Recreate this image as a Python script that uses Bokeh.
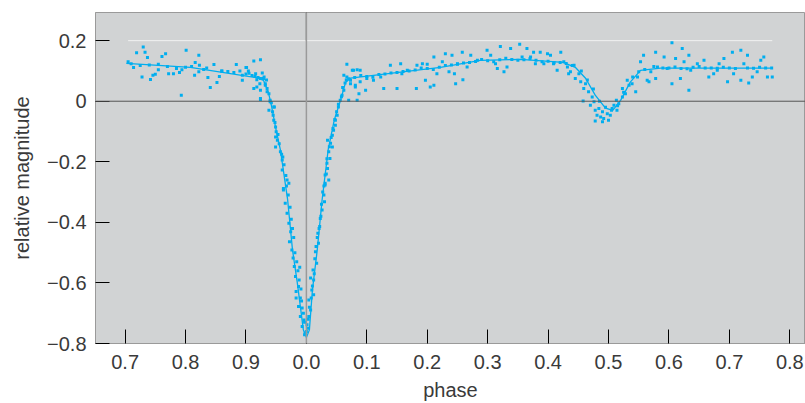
from bokeh.plotting import figure
from bokeh.models import Range1d, FixedTicker, Span
from bokeh.embed import file_html
from bokeh.resources import INLINE

# ---- data (continuous phase axis: -0.3 shown as 0.7, 0 as 0.0) ----
obs_phase = [
    -0.281, -0.270, -0.267, -0.263, -0.286, -0.272, -0.258, -0.254, -0.250, -0.245,
    -0.239, -0.233, -0.228, -0.220, -0.210, -0.206, -0.207, -0.199, -0.184, -0.178,
    -0.177, -0.178, -0.185, -0.163, -0.159, -0.153, -0.148, -0.144, -0.140, -0.116,
    -0.106, -0.100, -0.096, -0.087, -0.076, -0.084, -0.073, -0.082, -0.071, -0.077,
    -0.068, -0.087, -0.076, -0.065, -0.062, -0.076, -0.060, -0.054, -0.106, -0.099,
    -0.076, -0.082, -0.068, -0.065, -0.076, -0.060, -0.062, -0.053, -0.055, -0.054,
    -0.051, -0.050, -0.051, -0.048, -0.051, -0.043, -0.040, -0.039, -0.040, -0.032,
    -0.029, -0.038, -0.038, -0.035, -0.032, -0.029, -0.026, -0.028, -0.024, -0.022,
    -0.020, -0.011, -0.018, -0.013, -0.017, -0.017, -0.010, -0.013, -0.007, -0.010,
    -0.004, -0.007, -0.002,
    -0.003, 0.000, 0.001, 0.004, 0.007, 0.004, 0.012, 0.009, 0.012, 0.007,
    0.011, 0.017, 0.015, 0.020, 0.019, 0.022, 0.023, 0.026, 0.030, 0.029,
    0.031, 0.031, 0.037, 0.031, 0.035, 0.034, 0.039, 0.037, 0.043, 0.040,
    0.035, 0.043, 0.045, 0.048, 0.048, 0.051, 0.053, 0.056, 0.059, 0.062,
    0.070, 0.084, 0.073, 0.081, 0.087, 0.067, 0.067, 0.078, 0.089,
    0.062, 0.076, 0.084, 0.073, 0.081, 0.089, 0.100, 0.098, 0.111, 0.123,
    0.128, 0.139, 0.150, 0.156, 0.158, 0.167, 0.183, 0.182, 0.192, 0.200,
    0.197, 0.205, 0.211, 0.211, 0.216, 0.225, 0.230, 0.236, 0.241, 0.245,
    0.247, 0.250, 0.258, 0.259, 0.266, 0.272, 0.283, 0.299, 0.305, 0.313,
    0.316, 0.321, 0.327, 0.332, 0.338, 0.353, 0.357, 0.365, 0.371, 0.376,
    0.379, 0.387, 0.393, 0.399, 0.404, 0.409, 0.421, 0.415, 0.426, 0.432,
    0.434, 0.437, 0.443, 0.445, 0.451, 0.454, 0.459, 0.462, 0.467, 0.473,
    0.470, 0.476, 0.458, 0.478, 0.484, 0.481, 0.487, 0.490, 0.478, 0.492,
    0.498, 0.500, 0.490, 0.503, 0.506, 0.509, 0.513, 0.517, 0.523, 0.514,
    0.523, 0.528, 0.534, 0.531, 0.539, 0.545, 0.548, 0.550, 0.553, 0.558,
    0.564, 0.570, 0.567, 0.578, 0.578, 0.581, 0.592, 0.597, 0.605, 0.605,
    0.611, 0.619, 0.622, 0.625, 0.633, 0.633, 0.636, 0.647, 0.658, 0.666,
    0.674, 0.680, 0.683, 0.691, 0.697, 0.705, 0.707, 0.719, 0.719, 0.724,
    0.730, 0.732, 0.738, 0.746, 0.752, 0.757, 0.763, 0.771,
    -0.290, -0.260, -0.230, -0.200, -0.170, -0.140, -0.120, -0.100, -0.090, -0.080,
    0.080, 0.100, 0.120, 0.140, 0.160, 0.180, 0.200, 0.220, 0.240, 0.260,
    0.280, 0.300, 0.320, 0.340, 0.360, 0.380, 0.400, 0.420, 0.440, 0.600,
    0.620, 0.640, 0.660, 0.680, 0.700, 0.740, 0.760,
    -0.058, -0.056, -0.052, -0.047, -0.045, -0.041, -0.037, -0.034, -0.033, -0.030,
    -0.027, -0.025, -0.023, -0.021, -0.019, -0.016, -0.014, -0.012, -0.009, -0.008,
    -0.005, -0.003, 0.002, 0.003, 0.005, 0.008, 0.010, 0.013, 0.014, 0.016,
    0.018, 0.021, 0.024, 0.025, 0.027, 0.029, 0.033, 0.034, 0.038, 0.041,
    0.044, 0.047, 0.050, 0.053, 0.058, 0.060, 0.064, 0.066,
    -0.295, -0.275, -0.245, -0.215, -0.190, -0.165, -0.130, -0.110, -0.095, -0.085,
    -0.070, -0.066, 0.070, 0.090, 0.110, 0.130, 0.150, 0.170, 0.190, 0.210,
    0.230, 0.250, 0.270, 0.290, 0.310, 0.330, 0.350, 0.370, 0.390, 0.410,
    0.430, 0.455, 0.465, 0.475, 0.485, 0.495, 0.505, 0.515, 0.525, 0.540,
    0.560, 0.575, 0.590, 0.610, 0.630, 0.650, 0.670, 0.690, 0.710, 0.730,
    0.750, 0.770,
]
obs_mag = [
    0.160, 0.179, 0.162, 0.144, 0.111, 0.080, 0.072, 0.086, 0.089, 0.104,
    0.148, 0.157, 0.091, 0.091, 0.095, 0.104, 0.020, 0.168, 0.128, 0.152,
    0.119, 0.097, 0.086, 0.078, 0.045, 0.121, 0.062, 0.082, 0.100, 0.121,
    0.069, 0.111, 0.100, 0.133, 0.137, 0.091, 0.093, 0.071, 0.075, 0.058,
    0.058, 0.042, 0.036, 0.042, 0.025, 0.006, 0.003, -0.019, 0.086, 0.111,
    0.075, 0.047, 0.053, 0.031, 0.009, -0.002, -0.030, -0.019, -0.046, -0.063,
    -0.085, -0.101, -0.118, -0.129, -0.151, -0.167, -0.194, -0.184, -0.227, -0.260,
    -0.271, -0.288, -0.293, -0.337, -0.370, -0.403, -0.431, -0.464, -0.491, -0.518,
    -0.546, -0.548, -0.579, -0.612, -0.628, -0.650, -0.650, -0.678, -0.683, -0.711,
    -0.722, -0.744, -0.765,
    -0.771, -0.760, -0.738, -0.711, -0.689, -0.656, -0.639, -0.623, -0.590, -0.584,
    -0.557, -0.535, -0.497, -0.469, -0.436, -0.414, -0.387, -0.359, -0.332, -0.310,
    -0.271, -0.277, -0.260, -0.244, -0.222, -0.205, -0.189, -0.167, -0.151, -0.139,
    -0.129, -0.112, -0.096, -0.079, -0.063, -0.046, -0.019, 0.003, 0.020, 0.036,
    0.003, 0.003, 0.058, 0.047, 0.025, 0.080, 0.122, 0.102, 0.102,
    0.086, 0.102, 0.104, 0.069, 0.053, 0.064, 0.075, 0.036, 0.069, 0.080,
    0.042, 0.119, 0.042, 0.124, 0.091, 0.102, 0.119, 0.042, 0.124, 0.122,
    0.069, 0.047, 0.053, 0.146, 0.091, 0.130, 0.157, 0.097, 0.152, 0.091,
    0.058, 0.124, 0.162, 0.071, 0.113, 0.152, 0.135, 0.168, 0.152, 0.124,
    0.108, 0.181, 0.097, 0.113, 0.174, 0.188, 0.146, 0.174, 0.146, 0.162,
    0.124, 0.162, 0.124, 0.157, 0.152, 0.124, 0.162, 0.102, 0.130, 0.113,
    0.091, 0.097, 0.119, 0.075, 0.091, 0.064, 0.042, 0.058, 0.031, 0.014,
    -0.013, -0.002, 0.001, -0.030, -0.024, -0.046, -0.052, -0.035, -0.065, -0.057,
    -0.041, -0.063, -0.068, -0.046, -0.024, -0.013, 0.003, -0.008, 0.014, -0.030,
    0.042, 0.025, 0.053, 0.069, 0.058, 0.031, 0.080, 0.097, 0.130, 0.152,
    0.069, 0.097, 0.064, 0.162, 0.075, 0.113, 0.146, 0.108, 0.193, 0.058,
    0.141, 0.075, 0.174, 0.130, 0.152, 0.036, 0.102, 0.124, 0.135, 0.080,
    0.091, 0.102, 0.124, 0.141, 0.064, 0.162, 0.091, 0.168, 0.069, 0.124,
    0.152, 0.060, 0.080, 0.097, 0.135, 0.146, 0.080, 0.080,
    0.124, 0.120, 0.115, 0.112, 0.105, 0.100, 0.095, 0.090, 0.085, 0.078,
    0.078, 0.082, 0.088, 0.093, 0.098, 0.103, 0.108, 0.112, 0.120, 0.126,
    0.131, 0.134, 0.137, 0.138, 0.137, 0.135, 0.132, 0.128, 0.118, 0.110,
    0.108, 0.112, 0.110, 0.109, 0.110, 0.109, 0.110,
    -0.005, -0.035, -0.070, -0.110, -0.140, -0.175, -0.210, -0.245, -0.280, -0.310,
    -0.350, -0.390, -0.420, -0.450, -0.500, -0.530, -0.560, -0.590, -0.620, -0.660,
    -0.700, -0.730, -0.750, -0.720, -0.680, -0.650, -0.610, -0.570, -0.520, -0.480,
    -0.450, -0.420, -0.380, -0.340, -0.300, -0.280, -0.240, -0.190, -0.150, -0.120,
    -0.090, -0.060, -0.035, -0.010, 0.015, 0.045, 0.060, 0.070,
    0.130, 0.118, 0.122, 0.108, 0.115, 0.110, 0.098, 0.100, 0.092, 0.082,
    0.080, 0.070, 0.074, 0.085, 0.079, 0.090, 0.095, 0.100, 0.110, 0.105,
    0.118, 0.122, 0.128, 0.138, 0.130, 0.142, 0.135, 0.140, 0.130, 0.127,
    0.125, 0.100, 0.070, 0.040, 0.000, -0.020, -0.030, -0.015, 0.030, 0.080,
    0.105, 0.115, 0.110, 0.113, 0.107, 0.115, 0.110, 0.112, 0.108, 0.110,
    0.112, 0.110,
]

fit_phase = [-0.298, -0.192, -0.081, -0.071, -0.063, -0.058, -0.050, -0.043, -0.031,
             -0.023, -0.015, -0.005, 0.000, 0.005, 0.010, 0.018, 0.026, 0.036, 0.046,
             0.056, 0.065, 0.073, 0.156, 0.222, 0.288, 0.354, 0.425, 0.445, 0.462,
             0.478, 0.495, 0.507, 0.520, 0.536, 0.553, 0.586, 0.685, 0.772]
fit_mag = [0.125, 0.112, 0.077, 0.069, 0.030, -0.013, -0.096, -0.161, -0.326,
           -0.491, -0.600, -0.755, -0.780, -0.755, -0.623, -0.491, -0.326, -0.161, -0.063,
           0.000, 0.063, 0.076, 0.096, 0.112, 0.135, 0.138, 0.128, 0.112, 0.076,
           0.020, -0.023, -0.030, 0.003, 0.063, 0.102, 0.109, 0.109, 0.109]

x_ticks = [-0.3, -0.2, -0.1, 0.0, 0.1, 0.2, 0.3, 0.4, 0.5, 0.6, 0.7, 0.8]
x_tick_labels = ["0.7", "0.8", "0.9", "0.0", "0.1", "0.2", "0.3", "0.4", "0.5", "0.6", "0.7", "0.8"]
y_ticks = [0.2, 0.0, -0.2, -0.4, -0.6, -0.8]
y_tick_labels = ["0.2", "0", "\u22120.2", "\u22120.4", "\u22120.6", "\u22120.8"]

CYAN = "#00aeef"
TEXT = "#3a3a3a"
FONT = "Liberation Sans"

y_top = 0.293
p = figure(width=805, height=403, output_backend="svg", toolbar_location=None,
           x_range=Range1d(-0.349, 0.826), y_range=Range1d(-0.80, y_top),
           min_border_left=95, min_border_right=0, min_border_top=12, min_border_bottom=60)
p.background_fill_color = "#d1d3d4"
p.border_fill_color = "white"
p.outline_line_color = "#9a9a9a"
p.grid.visible = False

# faint white reference line at the top tick, spanning the data
p.segment(x0=[min(obs_phase)], y0=[y_ticks[0]], x1=[max(obs_phase)], y1=[y_ticks[0]],
          line_color="white", line_alpha=0.7, line_width=1)
p.add_layout(Span(location=0, dimension="width", line_color="#555555", line_width=1))
p.add_layout(Span(location=0, dimension="height", line_color="#9a9a9a", line_width=1.5))
p.segment(x0=[0], y0=[y_ticks[0]], x1=[0], y1=[y_top], line_color="black", line_width=1)

p.line(fit_phase, fit_mag, line_color=CYAN, line_width=1.3)
p.scatter(obs_phase, obs_mag, marker="square", size=3, fill_color=CYAN, line_color=None)

for ax in (p.xaxis[0], p.yaxis[0]):
    ax.axis_line_color = "#9a9a9a"
    ax.major_tick_line_color = "black"
    ax.major_tick_line_width = 1
    ax.major_tick_out = 0
    ax.minor_tick_line_color = None
    ax.major_label_text_font = FONT
    ax.major_label_text_font_size = "20px"
    ax.major_label_text_color = TEXT
    ax.axis_label_text_font = FONT
    ax.axis_label_text_font_size = "20px"
    ax.axis_label_text_font_style = "normal"
    ax.axis_label_text_color = TEXT

p.xaxis.ticker = FixedTicker(ticks=x_ticks)
p.xaxis.major_label_overrides = dict(zip(x_ticks, x_tick_labels))
p.xaxis.major_tick_in = 14
p.xaxis.major_label_standoff = 11
p.xaxis.axis_label = "phase"
p.xaxis.axis_label_standoff = 7

p.yaxis.ticker = FixedTicker(ticks=y_ticks)
p.yaxis.major_label_overrides = dict(zip(y_ticks, y_tick_labels))
p.yaxis.major_tick_in = 14
p.yaxis.major_label_standoff = 9
p.yaxis.axis_label = "relative magnitude"
p.yaxis.axis_label_standoff = 11

open("out.html", "w").write(file_html(p, INLINE))
